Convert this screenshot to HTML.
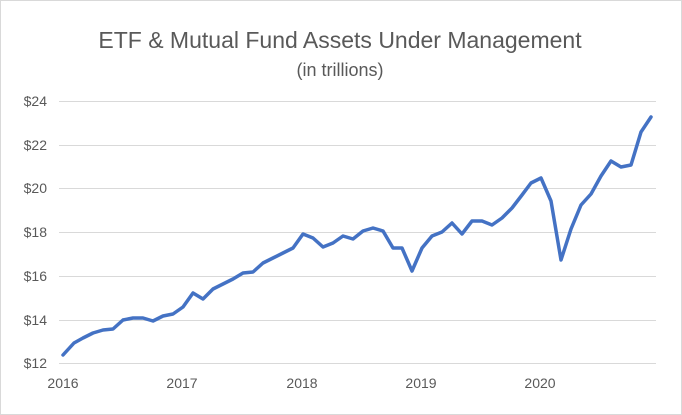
<!DOCTYPE html>
<html><head><meta charset="utf-8"><style>
body{margin:0;background:#fff}
svg{display:block}
text{font-family:"Liberation Sans",Arial,sans-serif;fill:#595959}
</style></head><body>
<svg width="682" height="415" viewBox="0 0 682 415">
<rect x="0.5" y="0.5" width="681" height="414" fill="#fff" stroke="#d9d9d9"/>
<text x="340" y="48" font-size="23" text-anchor="middle">ETF &amp; Mutual Fund Assets Under Management</text>
<text x="340" y="76" font-size="18" text-anchor="middle">(in trillions)</text>
<g stroke="#d9d9d9" stroke-width="1">
<line x1="59" x2="656" y1="101.5" y2="101.5"/>
<line x1="59" x2="656" y1="145.5" y2="145.5"/>
<line x1="59" x2="656" y1="188.5" y2="188.5"/>
<line x1="59" x2="656" y1="232.5" y2="232.5"/>
<line x1="59" x2="656" y1="276.5" y2="276.5"/>
<line x1="59" x2="656" y1="320.5" y2="320.5"/>
<line x1="59" x2="656" y1="363.5" y2="363.5"/>
</g>
<g font-size="14" text-anchor="end">
<text x="47" y="106">$24</text>
<text x="47" y="150">$22</text>
<text x="47" y="193">$20</text>
<text x="47" y="237">$18</text>
<text x="47" y="281">$16</text>
<text x="47" y="325">$14</text>
<text x="47" y="368">$12</text>
</g>
<g font-size="14" text-anchor="middle">
<text x="63" y="388">2016</text>
<text x="182" y="388">2017</text>
<text x="302" y="388">2018</text>
<text x="421" y="388">2019</text>
<text x="540" y="388">2020</text>
</g>
<polyline fill="none" stroke="#4472c4" stroke-width="3.5" stroke-linejoin="round" stroke-linecap="round" points="63,355 74,343 83,338 93,333 103,330 113,329 123,320 133,318 143,318 153,321 163,316 173,314 183,307 193,293 203,299 213,289 223,284 233,279 243,273 253,272 263,263 273,258 283,253 293,248 303,234 313,238 323,247 333,243 343,236 353,239 363,231 373,228 383,231 393,248 402,248 412,271 422,248 432,236 442,232 452,223 462,234 472,221 482,221 492,225 502,218 512,208 522,195 531,183 541,178 551,201 561,260 571,229 581,205 591,194 601,176 611,161 621,167 631,165 641,132 651,117"/>
</svg>
</body></html>
